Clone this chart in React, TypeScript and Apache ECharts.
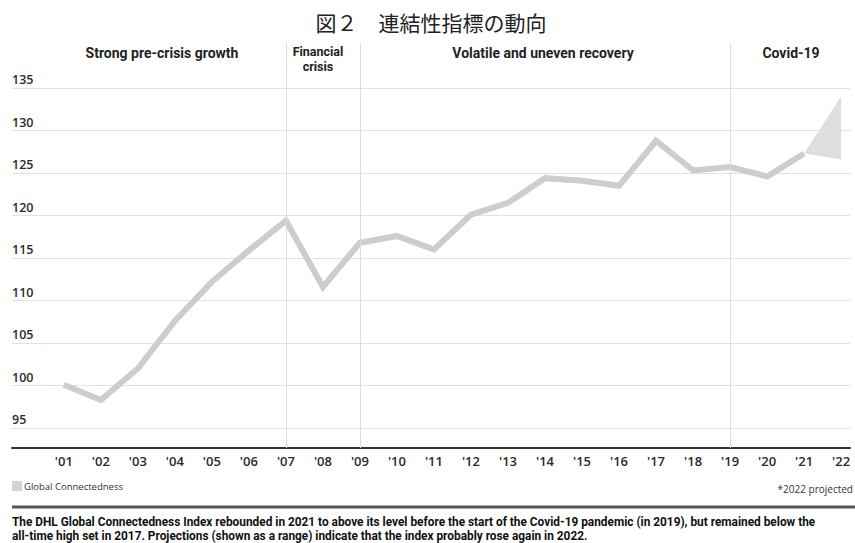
import React, { useEffect, useRef } from "react";
import * as echarts from "echarts";

// Global Connectedness index, 2001-2021
const years = [2001, 2002, 2003, 2004, 2005, 2006, 2007, 2008, 2009, 2010, 2011, 2012, 2013, 2014, 2015, 2016, 2017, 2018, 2019, 2020, 2021];
const connectedness = [100.1, 98.3, 102.0, 107.6, 112.2, 115.9, 119.4, 111.6, 116.8, 117.6, 116.0, 120.1, 121.5, 124.4, 124.1, 123.5, 128.8, 125.3, 125.7, 124.6, 127.3];

// 2022 projection range
const projectionYear = 2022;
const projectionLow = 126.6;
const projectionHigh = 134.0;

// Axis ticks
const yTicks = [95, 100, 105, 110, 115, 120, 125, 130, 135];
const xTicks = [2001, 2002, 2003, 2004, 2005, 2006, 2007, 2008, 2009, 2010, 2011, 2012, 2013, 2014, 2015, 2016, 2017, 2018, 2019, 2020, 2021, 2022];

// Phase separators and labels
const phaseBreaks = [2007, 2009, 2019];
const phaseLabels = ["Strong pre-crisis growth", "Financial\ncrisis", "Volatile and uneven recovery", "Covid-19"];

const titleText = "図２　連結性指標の動向";
const seriesName = "Global Connectedness";
const projectedNote = "*2022 projected";
const footnoteLines = [
  "The DHL Global Connectedness Index rebounded in 2021 to above its level before the start of the Covid-19 pandemic (in 2019), but remained below the",
  "all-time high set in 2017. Projections (shown as a range) indicate that the index probably rose again in 2022.",
];

const W = 855;
const H = 543;
const LATIN = "'Open Sans', 'Noto Sans', sans-serif";
const TIGHT = "Roboto, 'Open Sans', sans-serif";
const CJK = "'Noto Sans CJK JP', 'Noto Sans', sans-serif";
const phaseLabelX = [162, 318, 543, 791];

export default function App() {
  const ref = useRef<HTMLDivElement>(null);

  useEffect(() => {
    document.body.style.margin = "0";
    const chart = echarts.init(ref.current!, null, { renderer: "svg" });

    const lastYear = years[years.length - 1];
    const lastValue = connectedness[connectedness.length - 1];

    const option: any = {
      animation: false,
      backgroundColor: "#ffffff",
      grid: { left: 12, right: 5, top: 43, bottom: 95 },
      xAxis: {
        type: "value",
        min: 1999.6,
        max: 2022.24,
        axisLine: { show: true, lineStyle: { color: "#333333", width: 2 } },
        axisTick: { show: false },
        splitLine: { show: false },
        axisLabel: {
          customValues: xTicks,
          formatter: (v: number) => "'" + String(v).slice(2),
          color: "#2a2a2a",
          fontSize: 13,
          fontWeight: 600,
          fontFamily: LATIN,
          margin: 6,
        },
      },
      yAxis: {
        type: "value",
        min: 92.65,
        max: 140.3,
        axisLine: { show: false },
        axisTick: { show: false, customValues: yTicks },
        splitLine: { show: true, lineStyle: { color: "#e2e2e2", width: 1 } },
        axisLabel: {
          customValues: yTicks,
          inside: true,
          margin: 0,
          align: "left",
          verticalAlign: "bottom",
          padding: [0, 0, 2, 0],
          color: "#2a2a2a",
          fontSize: 12.5,
          fontWeight: 600,
          fontFamily: LATIN,
        },
      },
      legend: {
        left: 12,
        top: 481,
        padding: 0,
        itemWidth: 10,
        itemHeight: 10,
        itemGap: 4,
        selectedMode: false,
        data: [{ name: seriesName, icon: "rect", itemStyle: { color: "#d3d3d3", borderWidth: 0 } }],
        textStyle: { color: "#333333", fontSize: 9.5, fontFamily: LATIN, padding: [0, 0, 0, -3] },
      },
      series: [
        {
          name: "projection",
          type: "custom",
          z: 1,
          silent: true,
          data: [[lastYear, lastValue, projectionYear, projectionHigh, projectionLow]],
          renderItem: (_params: any, api: any) => {
            const a = api.coord([api.value(0), api.value(1)]);
            const b = api.coord([api.value(2), api.value(3)]);
            const c = api.coord([api.value(2), api.value(4)]);
            return {
              type: "polygon",
              shape: { points: [a, b, c] },
              style: { fill: "#dedede", stroke: "none" },
            };
          },
          markLine: {
            silent: true,
            symbol: "none",
            label: { show: false },
            lineStyle: { color: "#dcdcdc", width: 1, type: "solid" },
            data: phaseBreaks.map((x) => ({ xAxis: x })),
          },
        },
        {
          name: seriesName,
          type: "line",
          z: 3,
          silent: true,
          symbol: "none",
          data: years.map((y, i) => [y, connectedness[i]]),
          lineStyle: { color: "#cdcdcd", width: 6, join: "miter", cap: "butt" },
          itemStyle: { color: "#d3d3d3" },
        },
      ],
      graphic: [
        {
          type: "text",
          x: 431,
          y: 22,
          style: {
            text: titleText,
            fontFamily: CJK,
            fontSize: 21,
            fill: "#222222",
            textAlign: "center",
            textVerticalAlign: "middle",
          },
        },
        ...phaseLabels.map((t, i) => {
          const twoLine = t.includes("\n");
          return {
            type: "text",
            x: phaseLabelX[i],
            y: twoLine ? 44 : 44.5,
            style: {
              text: t,
              fontFamily: TIGHT,
              fontSize: twoLine ? 12.5 : 14,
              fontWeight: 700,
              lineHeight: twoLine ? 14.8 : 16.5,
              fill: "#222222",
              textAlign: "center",
              textVerticalAlign: "top",
            },
          };
        }),
        {
          type: "text",
          x: 853,
          y: 489,
          style: {
            text: projectedNote,
            fontFamily: LATIN,
            fontSize: 10,
            fill: "#333333",
            textAlign: "right",
            textVerticalAlign: "middle",
          },
        },
        {
          type: "rect",
          shape: { x: 12, y: 505.5, width: 843, height: 3 },
          style: { fill: "#555555" },
        },
        ...footnoteLines.map((t, i) => ({
          type: "text",
          x: 12,
          y: 521.5 + i * 14,
          style: {
            text: t,
            fontFamily: TIGHT,
            fontSize: 11.85,
            fontWeight: 700,
            fill: "#111111",
            textAlign: "left",
            textVerticalAlign: "middle",
          },
        })),
      ],
    };

    chart.setOption(option);
    return () => chart.dispose();
  }, []);

  return <div ref={ref} style={{ position: "absolute", left: 0, top: 0, width: W, height: H }} />;
}
